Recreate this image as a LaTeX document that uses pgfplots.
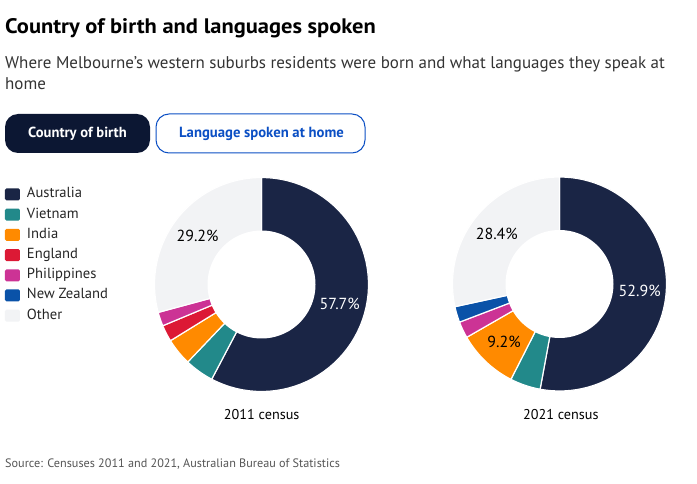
\documentclass[border=0pt]{standalone}
\usepackage{fontspec}
\setmainfont{PT Sans}
\newfontfamily\titlefont{PT Sans Bold}[FakeStretch=1.07]
\usepackage{pgfplots}
\pgfplotsset{compat=1.18}
\definecolor{aus}{HTML}{1A2545}
\definecolor{vie}{HTML}{22898A}
\definecolor{ind}{HTML}{FF8A00}
\definecolor{eng}{HTML}{DC1935}
\definecolor{phi}{HTML}{CC3395}
\definecolor{nz}{HTML}{0A52A8}
\definecolor{oth}{HTML}{F2F3F5}
\definecolor{btn}{HTML}{0C1733}
\definecolor{btnblue}{HTML}{0B4FC4}
\definecolor{subgray}{HTML}{333333}
\definecolor{srcgray}{HTML}{555555}

% donut geometry (canvas units = pixels)
\def\R{107}
\def\r{54}
% running cumulative share (percent)
\gdef\cum{0}
% \slice{cx}{cy}{value %}{colour}{label}{label colour}
\newcommand{\slice}[6]{%
  \pgfmathsetmacro{\angA}{90-3.6*\cum}%
  \pgfmathsetmacro{\newcum}{\cum+#3}%
  \xdef\cum{\newcum}%
  \pgfmathsetmacro{\angB}{90-3.6*\cum}%
  \pgfmathsetmacro{\angM}{(\angA+\angB)/2}%
  \pgfmathsetmacro{\lx}{#1+0.5*(\R+\r)*cos(\angM)}%
  \pgfmathsetmacro{\ly}{#2+0.5*(\R+\r)*sin(\angM)}%
  \ifdim #3pt>0pt
    \addplot[forget plot, fill=#4, draw=white, line width=1.2pt,
      domain=\angB:\angA, samples=60, variable=\t]
      ({#1+\R*cos(\t)},{#2+\R*sin(\t)}) -- (axis cs:#1,#2) -- cycle;
  \fi
  \if\relax\detokenize{#5}\relax\else
    \edef\doit{\noexpand\node[text=#6, font=\noexpand\fontsize{16}{18}\noexpand\selectfont, inner sep=0pt]
      at (axis cs:\lx,\ly) {\unexpanded{#5}};}%
    \doit
  \fi
}
\newcommand{\hole}[2]{%
  \addplot[forget plot, fill=white, draw=none, domain=0:360, samples=120]
    ({#1+\r*cos(x)},{#2+\r*sin(x)}) -- cycle;
}

\begin{document}
\begin{tikzpicture}
\begin{axis}[
  hide axis, scale only axis, width=697pt, height=483pt,
  xmin=0, xmax=697, ymin=0, ymax=483, clip=false,
  legend image code/.code={\fill[#1, draw=none, rounded corners=1.5pt] (0pt,-6pt) rectangle (15pt,6pt);},
  legend cell align=left,
  legend style={at={(axis description cs:0.00717,0.6108)}, anchor=north west,
    draw=none, fill=none, inner sep=0pt, outer sep=0pt, row sep=7.2pt,
    font=\fontsize{14.6}{16}\selectfont, text=black!85,
    nodes={inner sep=0pt, text height=10pt, text depth=3pt},
    /tikz/every odd column/.style={column sep=7pt}},
]
% white canvas
\addplot[forget plot, fill=white, draw=none] coordinates {(0,0) (697,0) (697,483) (0,483)} -- cycle;

% 2011 census (centre 261.5, 198.5)
\gdef\cum{0}
\slice{261.5}{198.5}{57.7}{aus}{57.7\%}{white}
\slice{261.5}{198.5}{4.4}{vie}{}{}
\slice{261.5}{198.5}{4.1}{ind}{}{}
\slice{261.5}{198.5}{2.5}{eng}{}{}
\slice{261.5}{198.5}{2.1}{phi}{}{}
\slice{261.5}{198.5}{0.0}{nz}{}{}
\slice{261.5}{198.5}{29.2}{oth}{29.2\%}{black}
\hole{261.5}{198.5}

% 2021 census (centre 559.5, 199)
\gdef\cum{0}
\slice{559.5}{199}{52.9}{aus}{52.9\%}{white}
\slice{559.5}{199}{4.6}{vie}{}{}
\slice{559.5}{199}{9.2}{ind}{9.2\%}{black}
\slice{559.5}{199}{0.0}{eng}{}{}
\slice{559.5}{199}{2.5}{phi}{}{}
\slice{559.5}{199}{2.4}{nz}{}{}
\slice{559.5}{199}{28.4}{oth}{28.4\%}{black}
\hole{559.5}{199}

\addlegendimage{fill=aus}\addlegendentry{Australia}
\addlegendimage{fill=vie}\addlegendentry{Vietnam}
\addlegendimage{fill=ind}\addlegendentry{India}
\addlegendimage{fill=eng}\addlegendentry{England}
\addlegendimage{fill=phi}\addlegendentry{Philippines}
\addlegendimage{fill=nz}\addlegendentry{New Zealand}
\addlegendimage{fill=oth}\addlegendentry{Other}

% Title and subtitle
\node[anchor=base west, inner sep=0pt, font=\fontsize{21}{24}\titlefont, text=black]
  at (axis cs:5,449.7) {Country of birth and languages spoken};
\node[anchor=base west, inner sep=0pt, font=\fontsize{16.95}{20}\selectfont, text=subgray]
  at (axis cs:5,414.7) {Where Melbourne’s western suburbs residents were born and what languages they speak at};
\node[anchor=base west, inner sep=0pt, font=\fontsize{16.95}{20}\selectfont, text=subgray]
  at (axis cs:5,393) {home};

% Buttons
\fill[btn, rounded corners=13pt] (axis cs:5,330) rectangle (axis cs:150,369);
\node[anchor=base, inner sep=0pt, font=\fontsize{14.6}{16}\selectfont\bfseries, text=white]
  at (axis cs:77.5,345) {Country of birth};
\draw[btnblue, line width=1pt, fill=white, rounded corners=13pt] (axis cs:156,330) rectangle (axis cs:365,369);
\node[anchor=base, inner sep=0pt, font=\fontsize{14.7}{16}\selectfont\bfseries, text=btnblue]
  at (axis cs:261.5,345) {Language spoken at home};

% Census labels
\node[anchor=base, inner sep=0pt, font=\fontsize{14.2}{16}\selectfont] at (axis cs:261.7,63.7) {2011 census};
\node[anchor=base, inner sep=0pt, font=\fontsize{14.2}{16}\selectfont] at (axis cs:560.8,63.7) {2021 census};

% Source
\node[anchor=base west, inner sep=0pt, font=\fontsize{12.2}{14}\selectfont, text=srcgray]
  at (axis cs:5,15.3) {Source: Censuses 2011 and 2021, Australian Bureau of Statistics};
\end{axis}
\end{tikzpicture}
\end{document}
